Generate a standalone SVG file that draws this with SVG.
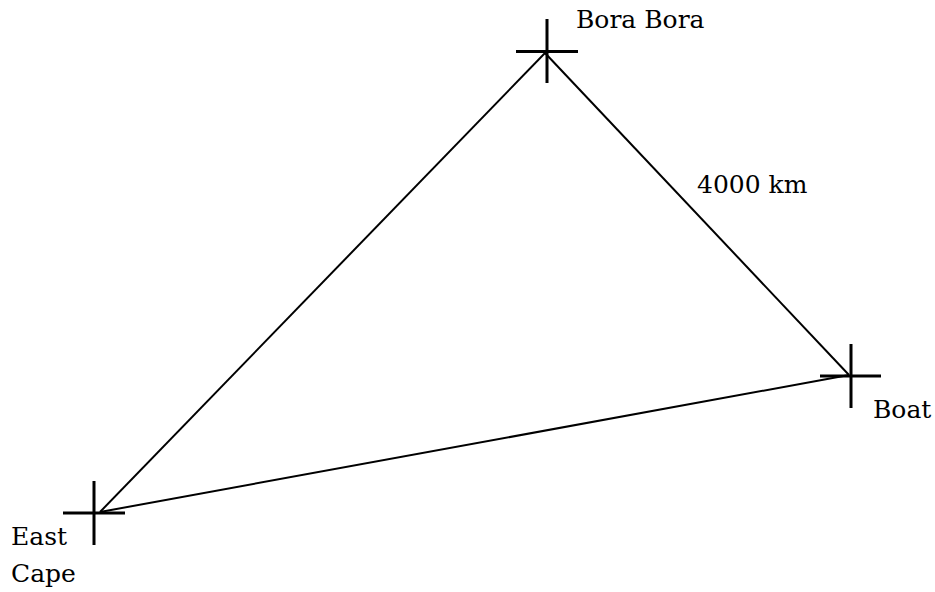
<svg xmlns="http://www.w3.org/2000/svg" width="935" height="592" viewBox="0 0 935 592">
<style>
.cross{stroke:#000;stroke-width:3;fill:none}
.edge{stroke:#000;stroke-width:2;fill:none}
.lbl{font-family:'DejaVu Serif',serif;font-size:25px;fill:#000}
</style>
<rect width="935" height="592" fill="#fff"/>
<g id="connectors">
<line class="edge" x1="545" y1="53" x2="849" y2="375"/>
<line class="edge" x1="545" y1="53" x2="100" y2="512"/>
<line class="edge" x1="100" y1="512" x2="849" y2="375"/>
<text class="lbl" x="697" y="193">4000 km</text>
</g>
<g id="bora-bora">
<path class="cross" d="M547 19V83M516 51.5H578"/>
<text class="lbl" x="576" y="28">Bora Bora</text>
</g>
<g id="boat">
<path class="cross" d="M851 344V408M820 376H881"/>
<text class="lbl" x="873" y="418">Boat</text>
</g>
<g id="east-cape">
<path class="cross" d="M94 481V545M63 513H125"/>
<text class="lbl" x="11" y="545">East</text>
<text class="lbl" x="11" y="582">Cape</text>
</g>
</svg>
